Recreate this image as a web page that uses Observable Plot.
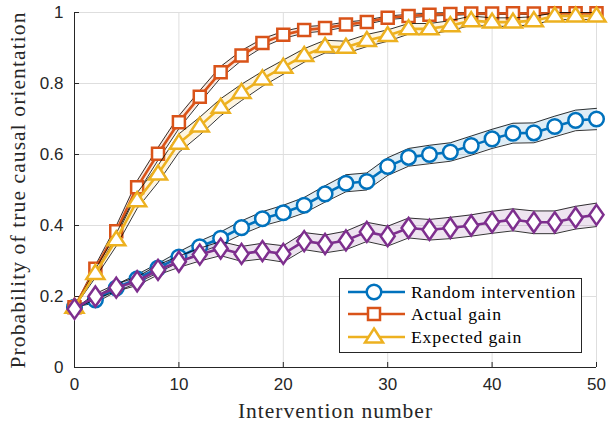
<!DOCTYPE html>
<html><head><meta charset="utf-8">
<script src="https://cdn.jsdelivr.net/npm/d3@7"></script>
<script src="https://cdn.jsdelivr.net/npm/@observablehq/plot@0.6"></script>
<style>
html,body{margin:0;padding:0;background:#fff;}
#wrap{position:relative;width:610px;height:426px;}
#legend{position:absolute;left:339px;top:278px;width:241px;height:73px;border:1px solid #262626;background:#fff;font-family:"Liberation Serif",serif;font-size:17.7px;letter-spacing:0.8px;color:#000;}
.row{position:absolute;left:0;height:22px;width:241px;}
.row svg{position:absolute;left:0;top:0;}
.row span{position:absolute;left:71px;top:0;line-height:22px;white-space:nowrap;}
</style></head><body><div id="wrap"></div>
<script>
// ---- data ----
const xs = [0,2,4,6,8,10,12,14,16,18,20,22,24,26,28,30,32,34,36,38,40,42,44,46,48,50];
const randomY   = [0.17,0.19,0.224,0.25,0.28,0.311,0.34,0.364,0.394,0.419,0.436,0.457,0.489,0.519,0.524,0.566,0.592,0.60,0.607,0.625,0.644,0.66,0.661,0.679,0.696,0.70];
const actualY   = [0.17,0.278,0.384,0.508,0.602,0.691,0.763,0.832,0.879,0.914,0.937,0.951,0.956,0.966,0.973,0.985,0.99,0.994,0.996,0.997,0.997,0.998,0.997,0.998,0.998,0.998];
const expectedY = [0.17,0.265,0.36,0.47,0.545,0.632,0.68,0.733,0.775,0.813,0.846,0.879,0.904,0.902,0.921,0.935,0.954,0.954,0.963,0.977,0.973,0.973,0.977,0.99,0.99,0.99];
const otherY    = [0.165,0.2,0.225,0.243,0.275,0.298,0.318,0.335,0.32,0.328,0.32,0.356,0.348,0.358,0.382,0.37,0.393,0.388,0.393,0.40,0.409,0.416,0.409,0.409,0.422,0.43];
// band half-widths
const randomHW   = [0,0.008,0.01,0.012,0.013,0.015,0.016,0.018,0.019,0.02,0.021,0.022,0.023,0.024,0.024,0.025,0.025,0.026,0.026,0.027,0.027,0.028,0.028,0.029,0.029,0.03];
const actualHW   = [0,0.01,0.015,0.018,0.018,0.018,0.017,0.016,0.014,0.012,0.01,0.009,0.008,0.007,0.006,0.005,0.005,0.004,0.004,0.003,0.003,0.003,0.003,0.002,0.002,0.002];
const expectedHW = [0,0.012,0.018,0.022,0.024,0.026,0.025,0.024,0.023,0.021,0.02,0.019,0.018,0.017,0.017,0.016,0.015,0.015,0.014,0.013,0.012,0.012,0.011,0.01,0.01,0.01];
const otherHW    = [0,0.008,0.01,0.012,0.014,0.016,0.018,0.02,0.021,0.022,0.023,0.024,0.025,0.026,0.027,0.028,0.028,0.029,0.03,0.03,0.031,0.031,0.032,0.032,0.032,0.033];
const seriesNames = ["Random intervention","Actual gain","Expected gain"];
const colors = ["#0072BD","#D95319","#EDB120","#7E2F8E"];
const xTicks = [0,10,20,30,40,50];
const yTicks = [0,0.2,0.4,0.6,0.8,1];
const xLabel = "Intervention number";
const yLabel = "Probability of true causal orientation";

// ---- marker shapes ----
const sqSym = {draw(c){c.moveTo(-6,-6);c.lineTo(6,-6);c.lineTo(6,6);c.lineTo(-6,6);c.closePath();}};
const triSym = {draw(c){c.moveTo(0,-8.5);c.lineTo(9,5.5);c.lineTo(-9,5.5);c.closePath();}};
const diaSym = {draw(c){c.moveTo(0,-10);c.lineTo(7,0);c.lineTo(0,10);c.lineTo(-7,0);c.closePath();}};
const symbols = ["circle", sqSym, triSym, diaSym];

function seriesMarks(vals, hw, color, sym) {
  const d = xs.map((x,i)=>({x, y: vals[i], lo: vals[i]-hw[i], hi: Math.min(1, vals[i]+hw[i])}));
  return [
    Plot.areaY(d, {x:"x", y1:"lo", y2:"hi", fill: color, fillOpacity: 0.13}),
    Plot.line(d, {x:"x", y:"lo", stroke:"#000", strokeWidth:0.8}),
    Plot.line(d, {x:"x", y:"hi", stroke:"#000", strokeWidth:0.8}),
    Plot.line(d, {x:"x", y:"y", stroke: color, strokeWidth: 2.6}),
    Plot.dot(d, {x:"x", y:"y", symbol: sym, r: 7.3, stroke: color, fill:"#fff", strokeWidth: 2.5})
  ];
}

const chart = Plot.plot({
  width: 610, height: 426,
  marginLeft: 74, marginRight: 14, marginTop: 12, marginBottom: 59,
  x: {domain:[0,50]},
  y: {domain:[0,1]},
  style: {background:"#fff", overflow:"visible"},
  marks: [
    Plot.gridX(xTicks, {stroke:"#dedede", strokeOpacity:1}),
    Plot.gridY(yTicks, {stroke:"#dedede", strokeOpacity:1}),
    Plot.ruleX([0], {stroke:"#262626"}),
    Plot.ruleY([0], {stroke:"#262626"}),
    Plot.axisX(xTicks, {tickSize:-5, tickPadding:15, fontSize:17, fontFamily:"Liberation Sans", color:"#262626", label:null, tickFormat: d=>String(d)}),
    Plot.axisY(yTicks, {tickSize:-5, tickPadding:16, fontSize:17, fontFamily:"Liberation Sans", color:"#262626", label:null, tickFormat: d=>String(d)}),
    ...seriesMarks(randomY, randomHW, colors[0], symbols[0]),
    ...seriesMarks(actualY, actualHW, colors[1], symbols[1]),
    ...seriesMarks(expectedY, expectedHW, colors[2], symbols[2]),
    ...seriesMarks(otherY, otherHW, colors[3], symbols[3]),
    Plot.text([xLabel], {frameAnchor:"bottom", textAnchor:"middle", dy:50, fontFamily:"Liberation Serif", fontSize:21.5, fill:"#262626"}),
    Plot.text([yLabel], {frameAnchor:"left", textAnchor:"middle", rotate:-90, dx:-56, fontFamily:"Liberation Serif", fontSize:21.5, fill:"#262626"})
  ]
});
d3.select(chart).selectAll("text").filter(function(){return this.textContent===xLabel;}).attr("letter-spacing","1px");
d3.select(chart).selectAll("text").filter(function(){return this.textContent===yLabel;}).attr("letter-spacing","1.1px");
const wrap = document.getElementById("wrap");
wrap.appendChild(chart);

// ---- legend ----
const legend = document.createElement("div");
legend.id = "legend";
const rowTops = [2, 24, 47];
seriesNames.forEach((name,i)=>{
  const row = document.createElement("div");
  row.className = "row";
  row.style.top = rowTops[i] + "px";
  const svg = d3.create("svg").attr("width",66).attr("height",22);
  svg.append("line").attr("x1",8).attr("x2",65).attr("y1",11).attr("y2",11).attr("stroke",colors[i]).attr("stroke-width",2.6);
  const sym = symbols[i];
  const p = d3.path();
  if (sym === "circle") { p.arc(0,0,7.3,0,2*Math.PI); } else { sym.draw(p); }
  svg.append("path").attr("d", p.toString()).attr("transform","translate(34,11)").attr("fill","#fff").attr("stroke",colors[i]).attr("stroke-width",2.5);
  row.appendChild(svg.node());
  const span = document.createElement("span");
  span.textContent = name;
  row.appendChild(span);
  legend.appendChild(row);
});
wrap.appendChild(legend);
</script>
</body></html>
